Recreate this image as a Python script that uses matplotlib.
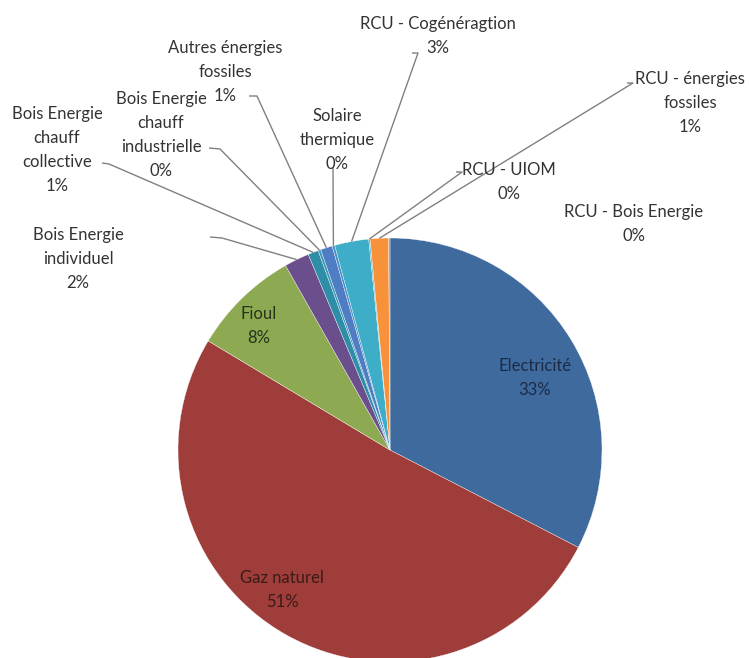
import numpy as np
import matplotlib
matplotlib.use("Agg")
import matplotlib.pyplot as plt

plt.rcParams['font.family'] = ['Lato', 'DejaVu Sans']

# Energy mix by source (%)
categories = [
    "Electricité", "Gaz naturel", "Fioul", "Bois Energie\nindividuel",
    "Bois Energie\nchauff\ncollective", "Bois Energie\nchauff\nindustrielle",
    "Autres énergies\nfossiles", "Solaire\nthermique", "RCU - Cogénéragtion",
    "RCU - UIOM", "RCU - énergies\nfossiles", "RCU - Bois Energie",
]
shares = [32.6, 51.0, 8.2, 1.9, 0.8, 0.2, 0.9, 0.2, 2.6, 0.1, 1.4, 0.1]
colors = ["#3F6A9E", "#9E3D3A", "#8DAA52", "#6B4E8C", "#2E8EA8", "#3A9AB5",
          "#4F7DC4", "#4A8FC8", "#3DADC8", "#5AB0C0", "#F7923A", "#E08A40"]

W, H = 750, 658
fig = plt.figure(figsize=(W / 100, H / 100), dpi=100)
ax = fig.add_axes([0, 0, 1, 1])

CX, CY, R = 390, 450, 212


def P(x, y):
    """Pixel position (origin top-left) to axes data coords."""
    return x, H - y


wedges, _ = ax.pie(shares, colors=colors, startangle=90, counterclock=False,
                   center=P(CX, CY), radius=R,
                   wedgeprops=dict(edgecolor="white", linewidth=0.25))
ax.set_xlim(0, W)
ax.set_ylim(0, H)
ax.set_aspect("equal")
ax.axis("off")

labels = [f"{c}\n{s:.0f}%" for c, s in zip(categories, shares)]

# Inside labels: index -> (x, y, text colour)
inner = {0: (535, 378, "#1C2B45"), 1: (282, 590, "#3B1A18"), 2: (259, 326, "#27331A")}
# Outside labels: index -> (x, y)
outer = {3: (78, 259), 4: (57, 150), 5: (161, 135), 6: (225, 72), 7: (337, 140),
         8: (438, 36), 9: (509, 182), 10: (690, 103), 11: (634, 224)}
# Leader lines: index -> (start point, elbow point) in pixels
leaders = {3: ((210, 237), (222, 238)), 4: ((102, 163), (109, 164)),
           5: ((209, 148), (220, 149)), 6: ((249, 96), (257, 96)),
           7: ((333, 167), (333, 168)), 8: ((412, 53), (418, 53)),
           9: ((456, 172), (462, 172)), 10: ((627, 83), (633, 83))}

FS = 12
LS = 1.62
for i, (x, y, col) in inner.items():
    ax.text(*P(x, y), labels[i], ha="center", va="center", fontsize=FS,
            color=col, linespacing=LS)
for i, (x, y) in outer.items():
    ax.text(*P(x, y), labels[i], ha="center", va="center", fontsize=FS,
            color="#333333", linespacing=LS)

for i, (p0, p1) in leaders.items():
    w = wedges[i]
    mid = np.deg2rad((w.theta1 + w.theta2) / 2)
    ex = w.center[0] + w.r * np.cos(mid)
    ey = w.center[1] + w.r * np.sin(mid)
    a, b = P(*p0), P(*p1)
    if p0[0] > p1[0]:
        a, b = b, a
        xs = [ex, a[0], b[0]]
        ys = [ey, a[1], b[1]]
    else:
        xs = [a[0], b[0], ex]
        ys = [a[1], b[1], ey]
    ax.plot(xs, ys, color="#808080", linewidth=1.0, solid_capstyle="butt")

fig.savefig("out.png", dpi=100)
